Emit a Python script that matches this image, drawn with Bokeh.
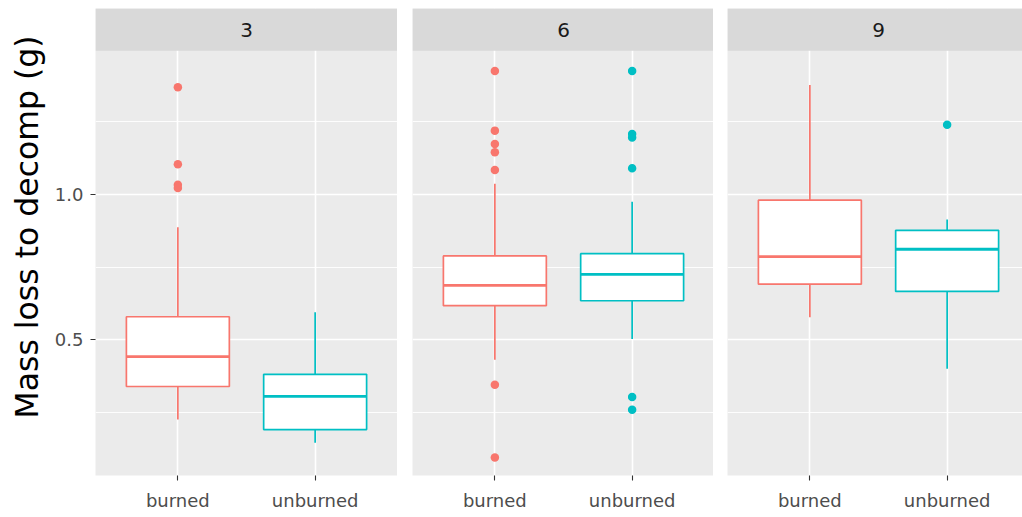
from bokeh.plotting import figure
from bokeh.layouts import row
from bokeh.models import (Range1d, FixedTicker, BoxAnnotation, Label, Title,
                          ColumnDataSource)
from bokeh.embed import file_html
from bokeh.resources import INLINE

# ---------------- data ----------------
panels = ["3", "6", "9"]
treatments = ["burned", "unburned"]
treatment_colors = ["#F8766D", "#00BFC4"]

box_panel = ["3", "3", "6", "6", "9", "9"]
box_treatment = ["burned", "unburned", "burned", "unburned", "burned", "unburned"]
whisker_low = [0.227, 0.147, 0.432, 0.503, 0.578, 0.401]
q1 = [0.340, 0.192, 0.618, 0.635, 0.692, 0.667]
median = [0.443, 0.306, 0.688, 0.726, 0.787, 0.812]
q3 = [0.580, 0.382, 0.789, 0.797, 0.981, 0.877]
whisker_high = [0.888, 0.595, 1.037, 0.975, 1.377, 0.914]

out_panel = ["3", "3", "3", "3",
             "6", "6", "6", "6", "6", "6", "6",
             "6", "6", "6", "6", "6", "6",
             "9"]
out_treatment = ["burned", "burned", "burned", "burned",
                 "burned", "burned", "burned", "burned", "burned", "burned", "burned",
                 "unburned", "unburned", "unburned", "unburned", "unburned", "unburned",
                 "unburned"]
out_value = [1.369, 1.104, 1.034, 1.023,
             1.425, 1.220, 1.174, 1.146, 1.085, 0.346, 0.096,
             1.425, 1.208, 1.196, 1.091, 0.304, 0.260,
             1.240]

y_major = [0.5, 1.0]
y_minor = [0.25, 0.75, 1.25]
y_labels = {0.5: "0.5", 1.0: "1.0"}
y_title = "Mass loss to decomp (g)"

# ---------------- styling ----------------
FONT = "DejaVu Sans"
PANEL_BG = "#EBEBEB"
STRIP_BG = "#D9D9D9"
Y_START, Y_END = 0.034, 1.640
STRIP_BOTTOM = 1.495
PX_PER_UNIT = 302 / 2.2
BOX_W = 0.75
TOP = 8
FRAME_H = 469
BOTTOM = 36


def make_panel(name, width, border_left, show_y):
    frame_w = width - border_left
    x_end = 0.4 + frame_w / PX_PER_UNIT
    p = figure(width=width, height=TOP + FRAME_H + BOTTOM,
               x_range=Range1d(0.4, x_end), y_range=Range1d(Y_START, Y_END),
               output_backend="svg", toolbar_location=None,
               y_axis_location="left" if show_y else None,
               min_border_left=border_left, min_border_right=0,
               min_border_top=TOP, min_border_bottom=BOTTOM,
               background_fill_color=PANEL_BG, border_fill_color="white",
               outline_line_color=None)

    # grids
    p.xgrid.ticker = FixedTicker(ticks=[1, 2])
    p.xgrid.grid_line_color = "white"
    p.xgrid.grid_line_width = 1.6
    p.ygrid.ticker = FixedTicker(ticks=y_major, minor_ticks=y_minor)
    p.ygrid.grid_line_color = "white"
    p.ygrid.grid_line_width = 1.6
    p.ygrid.minor_grid_line_color = "white"
    p.ygrid.minor_grid_line_width = 0.9

    # x axis
    xa = p.xaxis[0]
    xa.ticker = FixedTicker(ticks=[1, 2])
    xa.major_label_overrides = {i + 1: t for i, t in enumerate(treatments)}
    xa.axis_line_color = None
    xa.major_tick_line_color = "#333333"
    xa.major_tick_line_width = 1.1
    xa.major_tick_in = 0
    xa.major_tick_out = 5
    xa.minor_tick_line_color = None
    xa.major_label_standoff = 9
    xa.major_label_text_font = FONT
    xa.major_label_text_font_size = "18px"
    xa.major_label_text_color = "#4D4D4D"

    if show_y:
        ya = p.yaxis[0]
        ya.ticker = FixedTicker(ticks=y_major)
        ya.major_label_overrides = y_labels
        ya.axis_line_color = None
        ya.major_tick_line_color = "#333333"
        ya.major_tick_line_width = 1.1
        ya.major_tick_in = 0
        ya.major_tick_out = 5
        ya.minor_tick_line_color = None
        ya.major_label_standoff = 7
        ya.major_label_text_font = FONT
        ya.major_label_text_font_size = "18px"
        ya.major_label_text_color = "#4D4D4D"
        p.add_layout(Title(text=y_title, align="left", vertical_align="top",
                           offset=57, standoff=10, text_font=FONT,
                           text_font_size="31.5px", text_font_style="normal",
                           text_color="black"), "left")

    # boxes
    idx = [i for i, pn in enumerate(box_panel) if pn == name]
    xs = [treatments.index(box_treatment[i]) + 1 for i in idx]
    src = ColumnDataSource(dict(
        x=xs,
        xl=[x - BOX_W / 2 for x in xs],
        xr=[x + BOX_W / 2 for x in xs],
        lo=[whisker_low[i] for i in idx],
        q1=[q1[i] for i in idx],
        med=[median[i] for i in idx],
        q3=[q3[i] for i in idx],
        hi=[whisker_high[i] for i in idx],
        color=[treatment_colors[treatments.index(box_treatment[i])] for i in idx],
    ))
    p.segment(x0="x", y0="q3", x1="x", y1="hi", source=src,
              line_color="color", line_width=1.7)
    p.segment(x0="x", y0="lo", x1="x", y1="q1", source=src,
              line_color="color", line_width=1.7)
    p.vbar(x="x", width=BOX_W, bottom="q1", top="q3", source=src,
           fill_color="white", line_color="color", line_width=1.7)
    p.segment(x0="xl", y0="med", x1="xr", y1="med", source=src,
              line_color="color", line_width=2.8)

    oidx = [i for i, pn in enumerate(out_panel) if pn == name]
    if oidx:
        osrc = ColumnDataSource(dict(
            x=[treatments.index(out_treatment[i]) + 1 for i in oidx],
            y=[out_value[i] for i in oidx],
            color=[treatment_colors[treatments.index(out_treatment[i])] for i in oidx],
        ))
        p.scatter(x="x", y="y", source=osrc, size=8.5,
                  fill_color="color", line_color=None)

    # facet strip
    p.add_layout(BoxAnnotation(bottom=STRIP_BOTTOM, top=Y_END,
                               fill_color=STRIP_BG, fill_alpha=1.0,
                               line_color=None))
    p.add_layout(Label(x=1.5, y=(STRIP_BOTTOM + Y_END) / 2, text=name,
                       text_align="center", text_baseline="middle",
                       text_font=FONT, text_font_size="20px",
                       text_color="#1A1A1A"))
    return p


p1 = make_panel(panels[0], 397, 95, True)
p2 = make_panel(panels[1], 316, 15, False)
p3 = make_panel(panels[2], 309, 14, False)

layout = row(p1, p2, p3)
open("out.html", "w").write(file_html(layout, INLINE))
